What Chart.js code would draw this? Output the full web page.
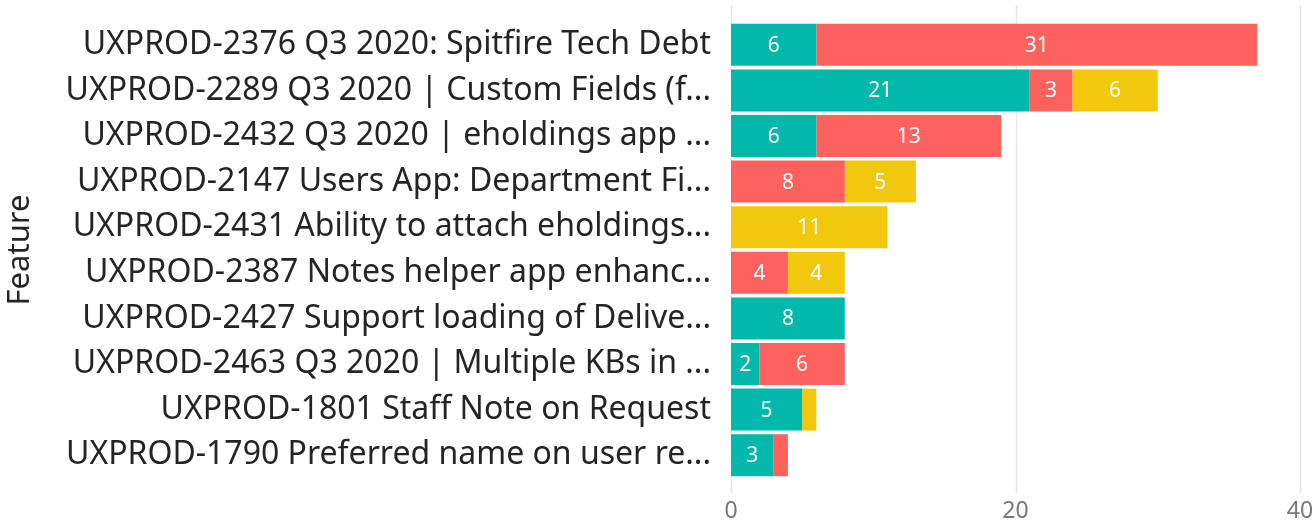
<!DOCTYPE html>
<html>
<head>
<meta charset="utf-8">
<script src="https://cdn.jsdelivr.net/npm/chart.js@4"></script>
<style>
  html, body { margin: 0; padding: 0; background: #fff; }
  #wrap { width: 1313px; height: 524px; position: relative; }
</style>
</head>
<body>
<div id="wrap"><canvas id="graph"></canvas></div>
<script>
// カテゴリ（機能）
const features = [
  "UXPROD-2376 Q3 2020: Spitfire Tech Debt",
  "UXPROD-2289 Q3 2020 | Custom Fields (f...",
  "UXPROD-2432 Q3 2020 | eholdings app ...",
  "UXPROD-2147 Users App: Department Fi...",
  "UXPROD-2431 Ability to attach eholdings...",
  "UXPROD-2387 Notes helper app enhanc...",
  "UXPROD-2427 Support loading of Delive...",
  "UXPROD-2463 Q3 2020 | Multiple KBs in ...",
  "UXPROD-1801 Staff Note on Request",
  "UXPROD-1790 Preferred name on user re...",
];

// 系列ごとの値
const tealValues = [6, 21, 6, null, null, null, 8, 2, 5, 3];
const redValues = [31, 3, 13, 8, null, 4, null, 6, null, 1];
const yellowValues = [null, 6, null, 5, 11, 4, null, null, 1, null];

const xTicks = [0, 20, 40];

const FONT = "'Noto Sans', 'Open Sans', sans-serif";

// グリッド線は上下に少しはみ出して描く
const gridPlugin = {
  id: "grid",
  beforeDatasetsDraw(chart) {
    const { ctx, scales } = chart;
    ctx.save();
    ctx.strokeStyle = "#e6e6e6";
    ctx.lineWidth = 1.5;
    xTicks.forEach((t) => {
      const x = Math.round(scales.x.getPixelForValue(t)) + 0.5;
      ctx.beginPath();
      ctx.moveTo(x, 5);
      ctx.lineTo(x, 493);
      ctx.stroke();
    });
    ctx.restore();
  },
};

// 棒の中の数値ラベル
const labelPlugin = {
  id: "barLabels",
  afterDatasetsDraw(chart) {
    const { ctx } = chart;
    ctx.save();
    ctx.fillStyle = "#fff";
    ctx.font = "21px " + FONT;
    ctx.textAlign = "center";
    ctx.textBaseline = "middle";
    chart.data.datasets.forEach((ds, i) => {
      chart.getDatasetMeta(i).data.forEach((bar, j) => {
        const v = ds.data[j];
        if (v == null) return;
        const w = Math.abs(bar.x - bar.base);
        if (w < 20) return;
        ctx.fillText(String(v), (bar.x + bar.base) / 2, bar.y + 1);
      });
    });
    ctx.restore();
  },
};

const config = {
  type: "bar",
  data: {
    labels: features,
    datasets: [
      { label: "A", data: tealValues, backgroundColor: "#01B8AA" },
      { label: "B", data: redValues, backgroundColor: "#FD625E" },
      { label: "C", data: yellowValues, backgroundColor: "#F2C80F" },
    ],
  },
  options: {
    indexAxis: "y",
    responsive: true,
    maintainAspectRatio: false,
    animation: false,
    datasets: {
      bar: { categoryPercentage: 1, barPercentage: 0.92 },
    },
    layout: { padding: { top: 22, right: 0, left: 0, bottom: 0 } },
    scales: {
      x: {
        stacked: true,
        min: 0,
        max: 40,
        afterBuildTicks: (s) => { s.ticks = xTicks.map((v) => ({ value: v })); },
        afterFit: (s) => { s.height = 46; s.paddingLeft = 0; s.paddingRight = 13; },
        grid: { display: false, drawTicks: false },
        border: { display: false },
        ticks: { color: "#777", font: { family: FONT, size: 23 }, padding: 20, maxRotation: 0 },
      },
      y: {
        stacked: true,
        afterFit: (s) => { s.width = 731; s.paddingTop = 0; s.paddingBottom = 0; },
        grid: { display: false, drawTicks: false },
        border: { display: false },
        ticks: { color: "#252423", font: { family: FONT, size: 32 }, padding: 20, autoSkip: false },
        title: { display: true, text: "Feature", color: "#252423", font: { family: FONT, size: 31 }, padding: { top: 2, bottom: 0 } },
      },
    },
    plugins: {
      legend: { display: false },
      tooltip: { enabled: false },
    },
  },
  plugins: [gridPlugin, labelPlugin],
};

let myChart = new Chart(document.getElementById("graph"), config);
</script>
</body>
</html>
